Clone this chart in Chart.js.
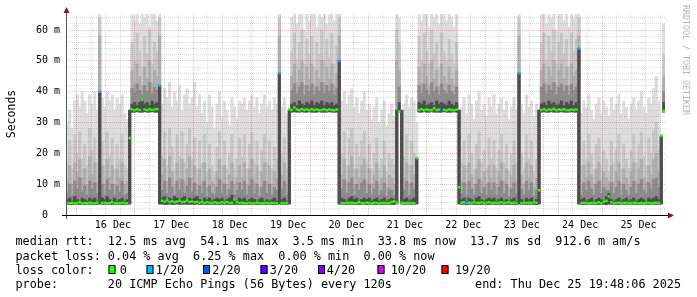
<!DOCTYPE html>
<html>
<head>
<meta charset="utf-8">
<script src="https://cdn.jsdelivr.net/npm/chart.js@4.4.1/dist/chart.umd.min.js"></script>
<style>
  html, body { margin: 0; padding: 0; background: #fff; }
  #wrap { width: 697px; height: 297px; }
</style>
</head>
<body>
<div id="wrap"><canvas id="smoke" width="697" height="297"></canvas></div>
<script>
// one value per hour, Dec 15 19:48 -> Dec 25 19:48, all in ms
const minRtt = [
  3.5, 3.4, 3.5, 3.5, 3.4, 3.5, 3.5, 3.4, 3.5, 3.5,
  3.5, 3.4, 3.5, 3.6, 3.5, 3.5, 3.4, 3.5, 3.5, 3.4,
  3.5, 3.5, 3.4, 3.5, 3.5, 3.6, 33.4, 33.4, 33.5, 33.4,
  33.4, 33.5, 33.4, 33.4, 33.5, 33.4, 33.4, 3.6, 3.6, 3.5,
  3.5, 3.6, 3.5, 3.5, 3.6, 3.5, 3.5, 3.6, 3.5, 3.5,
  3.5, 3.5, 3.6, 3.5, 3.5, 3.5, 3.4, 3.5, 3.5, 3.5,
  3.5, 3.4, 3.5, 3.5, 3.5, 3.4, 3.5, 3.5, 3.5, 3.4,
  3.5, 3.5, 3.4, 3.5, 3.5, 3.5, 3.4, 3.5, 3.5, 3.5,
  3.4, 3.5, 3.5, 3.5, 3.4, 3.6, 3.5, 3.5, 3.5, 3.6,
  33.4, 33.5, 33.4, 33.4, 33.5, 33.4, 33.4, 33.5, 33.4, 33.4,
  33.4, 33.5, 33.4, 33.4, 33.4, 33.5, 33.4, 33.4, 33.4, 3.6,
  3.5, 3.5, 3.4, 3.5, 3.5, 3.5, 3.4, 3.5, 3.5, 3.5,
  3.4, 3.5, 3.5, 3.5, 3.4, 3.5, 3.5, 3.5, 3.4, 3.5,
  3.5, 3.5, 3.6, 33.4, 3.6, 3.5, 3.5, 3.4, 3.5, 3.5,
  3.6, 33.4, 33.4, 33.5, 33.4, 33.4, 33.5, 33.4, 33.4, 33.4,
  33.4, 33.5, 33.4, 33.4, 33.4, 33.5, 33.4, 3.6, 3.5, 3.5,
  3.4, 3.5, 3.5, 3.5, 3.4, 3.5, 3.5, 3.5, 3.4, 3.5,
  3.5, 3.5, 3.4, 3.5, 3.5, 3.5, 3.4, 3.5, 3.5, 3.5,
  3.4, 3.6, 3.5, 3.5, 3.4, 3.5, 3.5, 3.5, 3.4, 3.6,
  33.4, 33.5, 33.4, 33.4, 33.5, 33.4, 33.4, 33.4, 33.5, 33.4,
  33.4, 33.4, 33.5, 33.4, 33.4, 3.6, 3.5, 3.5, 3.4, 3.5,
  3.5, 3.5, 3.4, 3.5, 3.5, 3.5, 3.4, 3.6, 3.5, 3.5,
  3.5, 3.4, 3.5, 3.5, 3.5, 3.4, 3.5, 3.5, 3.5, 3.4,
  3.5, 3.5, 3.5, 3.4, 3.5, 3.5, 3.5, 3.5, 3.6, 33.4
];

// smoke: upper edge of each band, outermost (max ping) first
const smoke1 = [
  30, 34, 28, 37, 39, 35, 40, 37, 33, 39,
  36, 40, 34, 66, 38, 35, 40, 37, 39, 34,
  38, 36, 39, 33, 31, 34, 65, 63, 66, 62,
  66, 64, 66, 61, 66, 65, 63, 66, 36, 41,
  38, 43, 35, 40, 37, 42, 34, 39, 41, 36,
  38, 43, 35, 39, 33, 37, 30, 39, 35, 28,
  36, 40, 32, 37, 34, 29, 38, 35, 31, 37,
  36, 38, 34, 37, 39, 35, 38, 33, 36, 39,
  35, 37, 34, 38, 36, 66, 35, 38, 33, 34,
  64, 66, 62, 66, 65, 60, 66, 63, 66, 65,
  61, 66, 64, 66, 62, 65, 66, 63, 66, 66,
  37, 40, 36, 39, 41, 35, 38, 33, 37, 40,
  34, 36, 31, 35, 38, 30, 34, 37, 29, 33,
  36, 32, 65, 64, 34, 36, 39, 35, 38, 37,
  30, 66, 63, 66, 65, 61, 66, 64, 66, 62,
  66, 65, 63, 66, 64, 61, 66, 34, 35, 38,
  33, 39, 36, 31, 37, 40, 34, 36, 32, 38,
  35, 39, 33, 36, 38, 34, 37, 31, 35, 38,
  34, 66, 36, 33, 39, 35, 37, 32, 36, 34,
  65, 66, 62, 66, 64, 66, 60, 65, 66, 63,
  66, 61, 66, 64, 66, 66, 33, 37, 35, 39,
  34, 31, 36, 38, 33, 37, 35, 32, 38, 34,
  36, 39, 33, 37, 35, 31, 36, 38, 34, 37,
  40, 35, 33, 38, 36, 41, 45, 37, 26, 62
];
const smoke2 = [
  17, 24, 15, 26, 20, 27, 18, 23, 16, 28,
  21, 25, 17, 64, 24, 16, 27, 19, 25, 15,
  23, 18, 26, 16, 15, 34, 56, 50, 59, 53,
  48, 58, 52, 60, 49, 56, 53, 64, 19, 27,
  16, 28, 22, 15, 26, 19, 27, 17, 23, 28,
  18, 25, 15, 24, 17, 26, 14, 23, 16, 14,
  22, 27, 16, 24, 15, 20, 26, 15, 18, 25,
  19, 26, 15, 23, 27, 17, 24, 14, 21, 26,
  17, 24, 15, 22, 18, 64, 20, 25, 15, 34,
  53, 59, 50, 56, 60, 49, 57, 52, 58, 48,
  56, 52, 60, 50, 57, 51, 59, 49, 55, 64,
  20, 27, 16, 25, 28, 15, 23, 19, 24, 27,
  17, 23, 15, 20, 25, 15, 18, 24, 14, 20,
  18, 16, 60, 56, 34, 19, 26, 16, 24, 20,
  18.5, 58, 50, 59, 53, 49, 60, 52, 56, 48,
  59, 53, 50, 57, 52, 49, 56, 34, 17, 24,
  16, 26, 20, 15, 23, 27, 17, 21, 15, 25,
  18, 24, 15, 21, 26, 17, 23, 14, 20, 24,
  17, 64, 20, 15, 26, 18, 24, 14, 18, 34,
  56, 59, 50, 58, 53, 60, 49, 56, 59, 52,
  57, 48, 59, 53, 57, 64, 16, 24, 18, 26,
  20, 15, 23, 25, 16, 21, 18, 14, 24, 17,
  21, 26, 15, 23, 18, 15, 21, 26, 17, 23,
  27, 19, 16, 25, 20, 27, 30, 21, 25.6, 52
];
const smoke3 = [
  11, 16, 10, 17, 14, 18, 12, 15, 10, 19,
  13, 17, 11, 58, 16, 10, 18, 12, 16, 10,
  15, 12, 17, 10, 11, 34, 47, 43, 49, 45,
  42, 48, 44, 50, 43, 47, 45, 58, 13, 18,
  11, 19, 14, 10, 17, 12, 18, 11, 15, 19,
  12, 16, 10, 15, 11, 17, 9, 15, 11, 10,
  14, 18, 11, 16, 10, 13, 17, 10, 12, 16,
  12, 17, 10, 15, 18, 11, 16, 9, 14, 17,
  11, 16, 10, 14, 12, 58, 13, 17, 10, 34,
  45, 49, 43, 47, 50, 42, 48, 44, 49, 42,
  47, 44, 50, 43, 48, 44, 49, 42, 46, 58,
  13, 18, 11, 16, 19, 10, 15, 12, 16, 18,
  11, 15, 10, 13, 17, 10, 12, 16, 9, 13,
  12, 10, 50, 47, 34, 12, 17, 10, 16, 13,
  18.5, 48, 43, 49, 45, 42, 50, 44, 47, 42,
  49, 45, 43, 48, 44, 42, 47, 34, 11, 16,
  10, 17, 13, 10, 15, 18, 11, 14, 10, 16,
  12, 16, 10, 14, 17, 11, 15, 9, 13, 16,
  11, 58, 13, 10, 17, 12, 16, 9, 12, 34,
  47, 49, 43, 48, 45, 50, 42, 47, 49, 44,
  48, 42, 49, 45, 47, 58, 10, 16, 12, 17,
  13, 10, 15, 17, 11, 14, 12, 11, 16, 11,
  14, 17, 10, 15, 12, 10, 14, 17, 11, 15,
  18, 12, 11, 16, 13, 18, 20, 14, 25.6, 45
];
const smoke4 = [
  7, 10, 6.5, 11, 8.5, 12, 7.5, 9.5, 6.5, 11,
  8.5, 10.5, 7, 40, 10, 6.5, 11.5, 8, 10, 6.5,
  9.5, 7.5, 11, 6.5, 7, 34, 41, 39.5, 42.5, 40.5,
  39, 42, 40, 43, 39.5, 41.5, 40.5, 42, 8, 11,
  7, 12, 9, 6.5, 11, 8, 11.5, 7, 9.5, 12,
  7.5, 10.5, 6.5, 9.5, 7, 11, 6, 9.5, 7, 6.5,
  9, 11.5, 7, 10, 6.5, 8.5, 11, 6.5, 8, 10.5,
  8, 11, 6.5, 9.5, 11.5, 7, 10, 6, 9, 11,
  7, 10, 6.5, 9, 8, 46, 8.5, 11, 6.5, 34,
  40.5, 42.5, 39.5, 41.5, 43, 39, 42, 40, 42.5, 39,
  41.5, 40, 43, 39.5, 42, 40, 42.5, 39, 41, 50,
  8.5, 11.5, 7, 10.5, 12, 6.5, 10, 8, 10.5, 11.5,
  7, 10, 6.5, 8.5, 11, 6.5, 8, 10.5, 6, 8.5,
  8, 6.5, 34, 41.5, 34, 8, 11, 6.5, 10.5, 8.5,
  18.5, 42, 39.5, 42.5, 40.5, 39, 43, 40, 41.5, 39,
  42.5, 40.5, 39.5, 42, 40, 39, 41.5, 34, 7, 10.5,
  6.5, 11, 8.5, 6.5, 10, 11.5, 7, 9, 6.5, 10.5,
  8, 10.5, 6.5, 9, 11, 7, 10, 6, 8.5, 10.5,
  7, 46, 8.5, 6.5, 11, 8, 10.5, 6, 8, 34,
  41.5, 42.5, 39.5, 42, 40.5, 43, 39, 41.5, 42.5, 40,
  42, 39, 42.5, 40.5, 41.5, 54, 6.5, 10.5, 8, 11,
  8.5, 6.5, 10, 11, 7, 9, 8, 8, 10.5, 7,
  9, 11, 6.5, 10, 8, 6.5, 9, 11, 7, 10,
  11.5, 8, 7, 10.5, 8.5, 11.5, 12, 9, 25.6, 40
];
const smoke5 = [
  5, 5.5, 4.5, 6, 5, 4.5, 5.5, 5, 4.5, 5.5,
  5, 5.5, 4.5, 40, 5.5, 5, 6, 5, 4.5, 5.5,
  4.5, 5, 5.5, 4.5, 5, 34, 36, 36.5, 35.5, 36.5,
  37.5, 36, 36.5, 35.5, 37, 36, 36.5, 42, 5.5, 6,
  5, 5.5, 5, 6, 5.5, 5, 5.5, 6, 5, 5.5,
  5, 5.5, 6, 5, 4.5, 5.5, 5, 5.5, 4.5, 5,
  5.5, 5, 5.5, 4.5, 5, 5.5, 6.5, 5, 4.5, 5.5,
  5, 5.5, 4.5, 5, 5.5, 5, 4.5, 5, 5.5, 4.5,
  5, 4.5, 5, 5.5, 4.5, 46, 5, 5.5, 4.5, 34,
  36, 36.5, 35.5, 37, 36, 35.5, 36.5, 36, 37, 35.5,
  36.5, 36, 37, 35.5, 36.5, 36, 36.5, 35.5, 36, 50,
  5.5, 5, 4.5, 5.5, 6, 5, 5.5, 4.5, 5, 5.5,
  5, 5.5, 4.5, 5, 5.5, 4.5, 5, 5.5, 4.5, 5,
  5.5, 5, 34, 36.5, 34, 5, 5.5, 4.5, 5, 5.5,
  18.5, 36.5, 36, 37, 35.5, 36, 36.5, 35.5, 37, 36,
  36.5, 36, 35.5, 37, 36, 35.5, 36.5, 34, 5, 5.5,
  4.5, 5.5, 5, 4.5, 5.5, 6, 5, 4.5, 5, 5.5,
  5, 5.5, 4.5, 5, 5.5, 4.5, 5, 4.5, 5, 5.5,
  4.5, 46, 5, 4.5, 5.5, 5, 5.5, 4.5, 5, 34,
  36, 36.5, 35.5, 37, 36, 36.5, 35.5, 36, 37, 35.5,
  36.5, 36, 37, 35.5, 36.5, 54, 5, 5.5, 4.5, 5,
  5.5, 4.5, 5, 5.5, 5, 4.5, 6, 7, 5, 4.5,
  5, 5.5, 4.5, 5, 5.5, 4.5, 5, 5.5, 4.5, 5,
  5.5, 5, 4.5, 5.5, 5, 5.5, 6, 5, 25.6, 36.5
];

const medianRtt = [
  3.9, 3.8, 4.0, 3.8, 3.9, 4.1, 3.8, 3.9, 3.8, 4.0,
  3.9, 3.8, 4.0, 40, 3.9, 4.0, 3.8, 3.9, 4.1, 3.8,
  3.9, 3.8, 4.0, 3.9, 3.8, 25, 34.2, 34.0, 34.3, 34.1,
  37.4, 34.2, 34.0, 34.3, 34.1, 34.2, 34.4, 42, 4.6, 4.3,
  4.8, 4.2, 4.5, 4.1, 4.4, 4.6, 4.2, 4.3, 4.7, 4.2,
  4.4, 4.1, 4.3, 4.0, 4.2, 3.9, 4.1, 4.0, 3.9, 4.1,
  4.0, 3.9, 4.1, 4.0, 4.2, 3.9, 4.0, 5.0, 4.1, 3.9,
  4.0, 3.9, 3.8, 4.0, 3.9, 3.8, 4.0, 3.9, 3.8, 3.9,
  3.9, 3.8, 4.0, 3.9, 3.8, 46, 3.9, 3.8, 3.9, 34.2,
  34.1, 34.9, 34.2, 34.0, 34.3, 34.1, 34.2, 34.0, 34.3, 34.1,
  34.2, 34.0, 34.1, 34.3, 34.0, 34.2, 34.1, 34.0, 34.2, 50,
  3.9, 3.8, 4.0, 3.9, 4.0, 3.8, 3.9, 4.1, 3.9, 3.8,
  4.0, 3.9, 3.8, 4.0, 3.9, 3.8, 3.9, 4.0, 3.8, 3.9,
  4.2, 4.5, 4.0, 33.6, 4.0, 3.8, 3.9, 3.8, 3.9, 3.8,
  18.5, 34.1, 34.3, 34.0, 34.2, 34.1, 34.0, 34.6, 34.1, 34.2,
  33.8, 34.1, 34.0, 34.2, 34.1, 34.0, 34.2, 9, 4.0, 4.1,
  3.9, 4.0, 3.9, 4.1, 3.9, 4.0, 4.1, 3.9, 4.0, 4.1,
  3.9, 4.0, 3.9, 4.0, 4.1, 3.9, 4.0, 4.1, 3.9, 4.0,
  3.9, 46, 3.9, 4.0, 3.9, 4.0, 3.9, 4.1, 4.0, 8,
  34.1, 34.3, 34.0, 34.2, 34.1, 34.5, 34.0, 34.2, 34.1, 34.3,
  34.1, 34.0, 34.2, 34.1, 34.2, 54, 3.9, 4.0, 3.9, 3.8,
  3.9, 4.0, 3.9, 4.1, 3.8, 4.2, 4.6, 6.0, 4.1, 3.8,
  3.9, 4.0, 3.8, 3.9, 4.0, 3.8, 3.9, 4.0, 3.9, 3.8,
  3.9, 3.8, 4.0, 3.9, 3.8, 3.9, 4.0, 3.9, 25.6, 33.8
];

// lost pings out of 20, per hour
const lossCount = [
  0, 0, 0, 0, 0, 0, 0, 0, 0, 0,
  0, 0, 0, 1, 0, 0, 0, 0, 0, 0,
  0, 0, 0, 0, 0, 0, 0, 0, 0, 0,
  0, 0, 0, 0, 0, 0, 0, 1, 0, 0,
  0, 0, 0, 0, 0, 0, 0, 0, 0, 0,
  0, 0, 0, 0, 0, 0, 0, 0, 0, 0,
  0, 0, 0, 0, 0, 0, 0, 0, 0, 0,
  0, 0, 0, 0, 0, 0, 0, 0, 0, 0,
  0, 0, 0, 0, 0, 1, 0, 0, 0, 0,
  0, 0, 0, 0, 0, 0, 0, 0, 0, 0,
  0, 0, 0, 0, 0, 0, 0, 0, 0, 1,
  0, 0, 0, 0, 0, 0, 0, 0, 0, 0,
  0, 0, 0, 0, 0, 0, 0, 0, 0, 0,
  0, 0, 0, 0, 0, 0, 0, 0, 0, 0,
  0, 0, 0, 0, 0, 0, 0, 0, 0, 0,
  2, 0, 0, 0, 0, 0, 0, 0, 0, 0,
  1, 0, 0, 0, 0, 0, 0, 0, 0, 0,
  0, 0, 0, 0, 0, 0, 0, 0, 0, 0,
  0, 1, 0, 0, 0, 0, 0, 0, 0, 0,
  0, 0, 0, 0, 0, 0, 0, 0, 0, 0,
  0, 0, 0, 0, 0, 1, 0, 0, 0, 0,
  0, 0, 0, 0, 0, 0, 0, 0, 0, 0,
  0, 0, 0, 0, 0, 0, 0, 0, 0, 0,
  0, 0, 0, 0, 0, 0, 0, 0, 0, 0
];

const dayLabels = ['16 Dec', '17 Dec', '18 Dec', '19 Dec', '20 Dec', '21 Dec', '22 Dec', '23 Dec', '24 Dec', '25 Dec'];
const lossSteps = [0, 1, 2, 3, 4, 10, 19];
const lossColors = ['#26ff00', '#00b8ff', '#0059ff', '#5e00ff', '#7e00ff', '#dd00ff', '#ff0000'];
const lossLabels = ['0', '1/20', '2/20', '3/20', '4/20', '10/20', '19/20'];

const statsLines = [
  'median rtt:  12.5 ms avg  54.1 ms max  3.5 ms min  33.8 ms now  13.7 ms sd  912.6 m am/s',
  'packet loss: 0.04 % avg  6.25 % max  0.00 % min  0.00 % now',
  'probe:       20 ICMP Echo Pings (56 Bytes) every 120s'
];
const endText = 'end: Thu Dec 25 19:48:06 2025';

[minRtt, smoke1, smoke2, smoke3, smoke4, smoke5, medianRtt, lossCount].forEach(a => {
  if (a.length !== 240) throw new Error('bad length ' + a.length);
});

const MONO = '"DejaVu Sans Mono", monospace';
const RED = 'rgba(225, 40, 40, 0.33)';
const GRAY = 'rgba(120, 120, 120, 0.26)';
const bandColors = ['#dddddd', '#c6c6c6', '#aeaeae', '#8c8c8c', '#4c4c4c'];

function lossColor(n) {
  let c = lossColors[0];
  lossSteps.forEach((s, k) => { if (n >= s) c = lossColors[k]; });
  return c;
}

const hours = minRtt.map((_, i) => i);
const xGrid = [];
for (let h = 24; h <= 258; h += 6) xGrid.push(h);
const yGrid = [];
for (let v = 0; v <= 64; v += 2) yGrid.push(v);

const bandSets = [smoke1, smoke2, smoke3, smoke4, smoke5].map((top, k) => ({
  type: 'bar',
  data: top.map((v, i) => [minRtt[i], v]),
  backgroundColor: bandColors[k],
  borderWidth: 0,
  barPercentage: 1,
  categoryPercentage: 1,
  grouped: false,
  order: 10 - k
}));

const decor = {
  id: 'decor',
  afterDraw(chart) {
    const ctx = chart.ctx;
    const a = chart.chartArea;
    ctx.save();
    // axis lines + arrows
    ctx.lineWidth = 1;
    ctx.strokeStyle = '#555';
    ctx.beginPath(); ctx.moveTo(a.left + 0.5, a.bottom + 4); ctx.lineTo(a.left + 0.5, 12); ctx.stroke();
    ctx.strokeStyle = '#000';
    ctx.beginPath(); ctx.moveTo(a.left - 4, a.bottom + 0.5); ctx.lineTo(669, a.bottom + 0.5); ctx.stroke();
    ctx.fillStyle = '#9a1010';
    ctx.beginPath(); ctx.moveTo(a.left + 0.5, 7); ctx.lineTo(a.left - 2.5, 13); ctx.lineTo(a.left + 3.5, 13); ctx.closePath(); ctx.fill();
    ctx.beginPath(); ctx.moveTo(674, a.bottom + 0.5); ctx.lineTo(668, a.bottom - 2.5); ctx.lineTo(668, a.bottom + 3.5); ctx.closePath(); ctx.fill();

    // axis title
    ctx.fillStyle = '#000';
    ctx.font = '11.5px ' + MONO;
    ctx.save();
    ctx.translate(15, 114);
    ctx.rotate(-Math.PI / 2);
    ctx.textAlign = 'center';
    ctx.textBaseline = 'alphabetic';
    ctx.fillText('Seconds', 0, 0);
    ctx.restore();

    // watermark
    ctx.save();
    ctx.fillStyle = '#b4b4b4';
    ctx.font = '8.3px ' + MONO;
    ctx.translate(685, 5);
    ctx.rotate(Math.PI / 2);
    ctx.textAlign = 'left';
    ctx.textBaseline = 'middle';
    ctx.fillText('RRDTOOL / TOBI OETIKER', 0, 0);
    ctx.restore();

    // legend block
    ctx.font = '11.8px ' + MONO;
    ctx.textAlign = 'left';
    ctx.textBaseline = 'alphabetic';
    ctx.fillStyle = '#000';
    ctx.fillText(statsLines[0], 15.5, 245);
    ctx.fillText(statsLines[1], 15.5, 259.5);
    ctx.fillText('loss color:', 15.5, 273.7);
    ctx.fillText(statsLines[2], 15.5, 288);
    ctx.textAlign = 'right';
    ctx.fillText(endText, 681, 288);
    ctx.textAlign = 'left';

    const boxX = [108.5, 146.5, 203, 260.5, 318, 377.5, 441.5];
    const textX = [119.7, 155.7, 212.3, 269.7, 326.7, 390.7, 455];
    lossLabels.forEach((lab, k) => {
      ctx.fillStyle = lossColors[k];
      ctx.fillRect(boxX[k], 265.5, 7, 8);
      ctx.strokeStyle = '#000';
      ctx.strokeRect(boxX[k] + 0.5, 265.5, 6, 8);
      ctx.fillStyle = '#000';
      ctx.fillText(lab, textX[k], 273.7);
    });
    ctx.restore();
  }
};

new Chart(document.getElementById('smoke'), {
  type: 'bar',
  data: {
    labels: hours,
    datasets: [
      ...bandSets,
      {
        type: 'line',
        data: medianRtt,
        showLine: false,
        pointStyle: 'line',
        pointRadius: 1.3,
        pointBorderWidth: 2.5,
        pointBorderColor: lossCount.map(lossColor),
        pointBackgroundColor: lossCount.map(lossColor),
        order: 0
      }
    ]
  },
  options: {
    responsive: false,
    animation: false,
    events: [],
    layout: { padding: { left: 0, top: 14, right: 32, bottom: 0 } },
    plugins: { legend: { display: false }, tooltip: { enabled: false } },
    scales: {
      x: { display: false, offset: true, grid: { display: false } },
      xt: {
        type: 'linear',
        position: 'bottom',
        min: 19.8,
        max: 259.8,
        afterBuildTicks: s => { s.ticks = xGrid.map(v => ({ value: v })); },
        afterFit: s => { s.height = 82; },
        ticks: {
          autoSkip: false,
          maxRotation: 0,
          padding: 4,
          color: '#000',
          font: { family: MONO, size: 10 },
          callback: v => (v % 24 === 12 ? dayLabels[(v - 36) / 24] : '')
        },
        grid: {
          z: 1,
          drawTicks: false,
          color: c => (c.tick && c.tick.value % 24 === 0 ? RED : GRAY)
        },
        border: { display: false, dash: [1, 1] }
      },
      y: {
        min: 0,
        max: 65.2,
        afterBuildTicks: s => { s.ticks = yGrid.map(v => ({ value: v })); },
        afterFit: s => { s.width = 66; },
        ticks: {
          padding: 6,
          autoSkip: false,
          color: '#000',
          font: { family: MONO, size: 10 },
          callback: v => (v % 10 === 0 ? (v === 0 ? '0  ' : v + ' m') : '')
        },
        grid: {
          z: 1,
          drawTicks: false,
          color: c => (c.tick && c.tick.value === 0 ? 'rgba(0,0,0,0)' : (c.tick && c.tick.value % 10 === 0 ? RED : GRAY))
        },
        border: { display: false, dash: [1, 1] }
      }
    }
  },
  plugins: [decor]
});
</script>
</body>
</html>
